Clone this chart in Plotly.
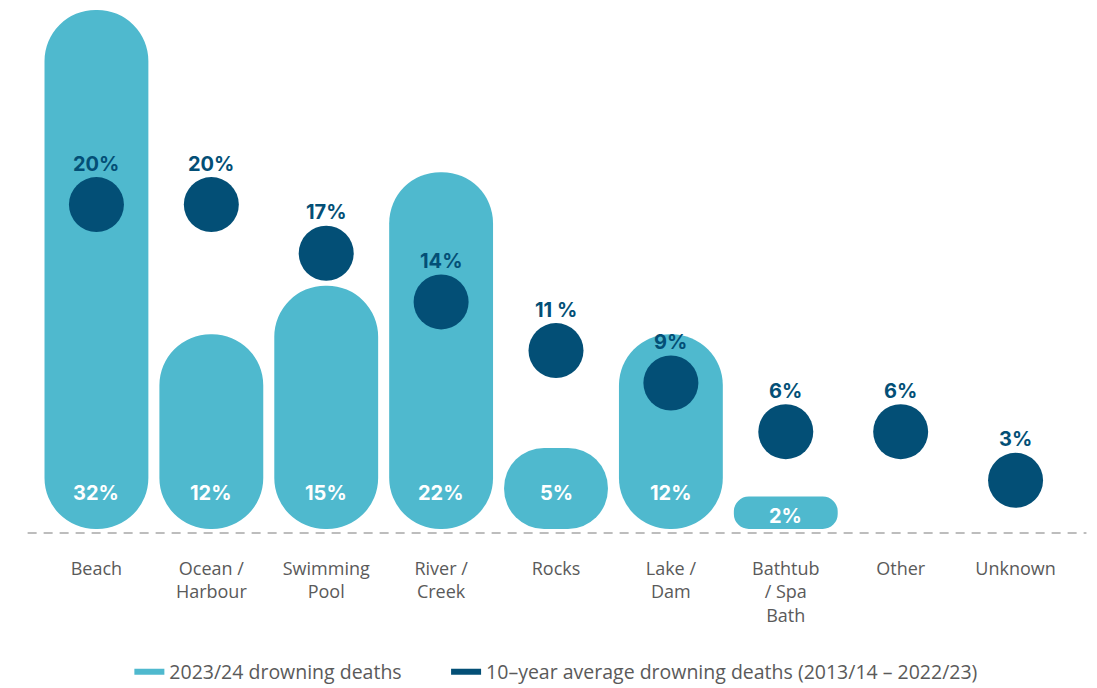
import plotly.graph_objects as go

# ---- data ----
categories = ["Beach", "Ocean / Harbour", "Swimming Pool", "River / Creek", "Rocks",
              "Lake / Dam", "Bathtub / Spa Bath", "Other", "Unknown"]
tick_labels = ["Beach", "Ocean /<br>Harbour", "Swimming<br>Pool", "River /<br>Creek", "Rocks",
               "Lake /<br>Dam", "Bathtub<br>/ Spa<br>Bath", "Other", "Unknown"]
deaths_2023_24 = [32, 12, 15, 22, 5, 12, 2, 0, 0]
deaths_2023_24_labels = ["32%", "12%", "15%", "22%", "5%", "12%", "2%", "", ""]
avg_10yr = [20, 20, 17, 14, 11, 9, 6, 6, 3]
avg_10yr_labels = ["20%", "20%", "17%", "14%", "11 %", "9%", "6%", "6%", "3%"]

series_names = ["2023/24 drowning deaths",
                "10\u2013year average drowning deaths (2013/14 \u2013 2022/23)"]

# ---- style ----
TEAL = "#4FB9CE"
NAVY = "#034F76"
GREY_TXT = "#5a5a5a"
W, H = 1089, 680          # page adds an 8px body margin
M_L, M_R, M_T, M_B = 30.5, 23.5, 0, 155
Y_MIN, Y_MAX = -0.2466, 32.12
BAR_W = 0.904
BAR_PX = 104
plot_h = H - M_T - M_B
k = plot_h / (Y_MAX - Y_MIN)  # pixels per unit

fig = go.Figure()

x_idx = list(range(len(categories)))

for i, v in enumerate(deaths_2023_24):
    if v <= 0:
        continue
    r = min(BAR_PX / 2.0, v * k / 2.0) - 0.5
    fig.add_trace(go.Bar(x=[i], y=[v], base=[0], width=BAR_W,
                         marker=dict(color=TEAL, line=dict(width=0), cornerradius=r),
                         showlegend=False, hoverinfo="skip"))

fig.add_trace(go.Scatter(x=x_idx, y=avg_10yr, mode="markers",
                         marker=dict(size=55, color=NAVY, line=dict(width=0)),
                         showlegend=False, hoverinfo="skip"))

# legend-only entries
fig.add_trace(go.Scatter(x=[None], y=[None], mode="lines", name=series_names[0],
                         line=dict(color=TEAL, width=6), legend="legend"))
fig.add_trace(go.Scatter(x=[None], y=[None], mode="lines", name=series_names[1],
                         line=dict(color=NAVY, width=6), legend="legend2"))

annotations = []
label_font = dict(family="Inter, Roboto, sans-serif", size=20, weight=700)
for i, (v, t) in enumerate(zip(avg_10yr, avg_10yr_labels)):
    annotations.append(dict(x=i, y=v, yshift=41, text=t, showarrow=False,
                            font=dict(color=NAVY, **label_font)))
for i, (v, t) in enumerate(zip(deaths_2023_24, deaths_2023_24_labels)):
    if not t:
        continue
    annotations.append(dict(x=i, y=min(2.4, v / 2.0), yshift=-3, text=t, showarrow=False,
                            font=dict(color="white", **label_font)))

legend_common = dict(orientation="h", y=-0.265, yanchor="middle", xanchor="left",
                     font=dict(family="Open Sans, sans-serif", size=19.5, color=GREY_TXT),
                     itemwidth=30, bgcolor="rgba(0,0,0,0)")

fig.update_layout(
    width=W, height=H,
    margin=dict(l=M_L, r=M_R, t=M_T, b=M_B, autoexpand=False),
    paper_bgcolor="white", plot_bgcolor="white",
    barmode="overlay",
    showlegend=True,
    legend=dict(x=0.0874, **legend_common),
    legend2=dict(x=0.3937, **legend_common),
    xaxis=dict(range=[-0.5, len(categories) - 0.5], tickmode="array",
               tickvals=x_idx, ticktext=tick_labels, showgrid=False, zeroline=False,
               showline=False, ticks="", ticklabelstandoff=23,
               tickfont=dict(family="Open Sans, sans-serif", size=18, color=GREY_TXT)),
    yaxis=dict(range=[Y_MIN, Y_MAX], visible=False, showgrid=False, zeroline=False),
    annotations=annotations,
    shapes=[dict(type="line", xref="paper", yref="paper", x0=-0.011, x1=1.013, y0=0, y1=0,
                 line=dict(color="#BDBDBD", width=2, dash="9px,7px"), layer="below")],
)

fig.write_html("out.html")
